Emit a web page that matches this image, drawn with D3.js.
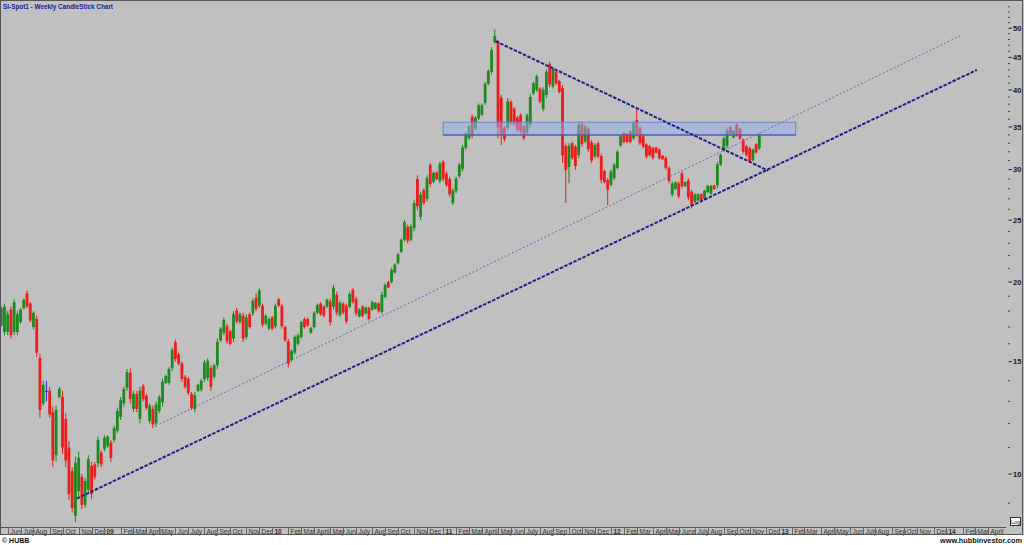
<!DOCTYPE html>
<html><head><meta charset="utf-8">
<script src="https://cdn.jsdelivr.net/npm/d3@7/dist/d3.min.js"></script>
<style>html,body{margin:0;padding:0;background:#fff;}svg{display:block}</style>
</head><body><svg id="c" width="1024" height="545"></svg>
<script>
// ---- data (weekly silver spot) ----
const firstWeek = "2008-05-23";
const opens = [17.1,16.7,16.7,18.1,16.7,16.7,17.3,18.2,19.2,18.5,
17.0,17.5,15.2,12.9,13.5,13.5,12.5,10.7,13.2,13.2,
12.2,11.0,10.1,8.6,9.4,9.9,8.95,9.45,10.3,10.35,
10.4,10.8,10.95,11.05,11.2,11.3,11.7,12.3,12.9,13.65,
14.4,12.65,13.35,12.2,13.75,13.25,12.1,12.65,12.0,12.55,
12.95,13.9,13.9,14.65,16.1,15.4,14.9,14.2,14.1,13.35,
12.65,13.5,13.55,14.1,14.15,14.65,14.2,14.8,16.2,16.65,
17.05,16.75,16.3,18.05,17.3,17.7,16.4,17.8,17.85,18.9,
18.35,18.35,17.2,16.9,17.6,17.05,18.8,18.35,17.0,16.15,
15.1,15.5,16.0,16.4,17.5,17.5,16.65,17.0,17.9,18.5,
18.3,18.3,18.65,18.3,19.1,17.75,18.5,18.35,18.3,19.45,
18.8,17.65,18.3,17.85,18.2,18.1,18.15,18.5,17.95,18.95,
20.0,20.0,20.7,21.4,22.3,23.3,24.4,23.3,24.3,29.0,
25.3,27.85,27.0,30.5,28.7,29.7,28.8,30.85,29.6,29.0,
26.6,27.75,29.3,30.1,32.45,33.6,36.3,34.8,36.1,36.6,
38.2,40.9,42.7,47.5,47.6,38.9,34.9,34.9,38.3,37.4,
36.2,36.55,35.1,34.3,35.3,39.5,40.0,40.2,37.35,39.3,
43.9,40.5,42.75,41.3,40.3,32.7,30.3,33.0,32.6,31.6,
35.4,33.2,34.8,33.1,31.45,33.0,31.5,29.85,28.9,28.4,
29.1,30.2,32.75,34.25,34.1,34.45,33.6,35.9,34.9,33.85,
32.85,32.65,32.45,32.5,32.25,31.55,31.3,30.2,27.4,28.0,
28.55,29.6,28.25,28.85,27.7,26.7,26.85,27.45,27.0,27.65,
27.5,28.35,28.35,30.55,32.2,32.7,35.0,33.7,35.3,34.75,
33.4,32.65,32.4,31.05,32.9,32.4];
const highs = [18.3,18.5,18.0,18.3,18.8,18.0,18.2,18.85,19.4,18.6,
18.0,17.7,15.45,14.0,14.0,13.7,12.75,12.8,13.7,13.5,
12.45,11.25,10.25,10.65,10.85,10.0,9.85,10.7,10.45,10.45,
11.45,10.9,11.5,11.5,11.3,11.9,12.7,13.2,13.7,14.6,
14.65,13.5,13.5,13.7,13.85,13.35,12.9,12.8,13.0,13.3,
14.1,14.3,14.7,15.8,16.25,15.5,15.0,14.3,14.2,13.45,
13.45,13.85,14.1,15.1,15.2,14.8,14.9,16.3,17.0,17.6,
17.2,16.85,18.0,18.2,17.9,17.9,17.8,17.9,18.85,19.2,
19.55,18.5,17.8,17.6,17.7,18.5,18.85,18.5,17.1,16.3,
15.7,16.5,16.6,17.4,17.6,17.6,17.0,18.0,18.5,18.6,
18.4,18.85,18.85,19.8,19.3,18.7,18.6,18.5,19.3,19.55,
18.95,18.2,18.4,18.3,18.3,18.7,18.6,18.6,19.3,19.9,
20.1,21.05,21.4,22.2,23.4,25.0,24.6,24.6,26.9,29.4,
27.7,28.05,29.4,30.75,29.8,29.8,30.9,31.1,29.8,29.25,
28.05,29.25,30.75,32.8,34.4,35.3,36.6,36.4,38.1,38.1,
41.2,43.1,46.7,49.8,47.9,39.3,35.1,38.85,38.6,37.6,
36.4,36.8,35.3,36.8,39.5,41.2,42.3,40.4,40.4,43.1,
44.3,43.5,43.0,41.5,40.7,33.0,33.0,33.2,32.8,35.7,
35.7,35.3,35.1,33.4,33.0,33.2,31.8,30.0,29.1,30.0,
30.75,32.2,34.0,34.4,34.2,34.6,35.7,37.4,35.1,34.0,
33.0,32.8,32.6,32.6,32.4,31.6,31.45,30.4,28.75,28.75,
28.75,29.8,28.75,29.1,27.9,27.55,27.55,27.55,27.9,28.4,
28.4,28.4,30.9,31.8,33.8,34.9,35.1,34.6,35.5,34.9,
33.6,32.8,32.6,32.4,33.0,34.2];
const lows = [17.0,16.5,16.5,16.3,16.5,16.5,17.2,18.1,18.2,17.3,
16.85,15.25,12.25,12.8,13.0,12.25,10.25,10.45,13.15,10.75,
10.25,9.1,8.7,8.4,9.2,8.8,8.85,9.3,9.15,9.8,
10.25,10.25,10.85,11.0,10.45,11.2,11.6,12.15,12.75,13.5,
12.9,12.5,12.5,12.0,13.0,12.6,12.0,11.8,11.85,12.45,
12.75,13.85,13.8,14.5,15.0,14.8,13.95,13.6,13.3,12.6,
12.5,13.45,13.45,13.95,14.0,13.5,14.1,14.6,16.1,16.5,
16.0,15.9,16.1,17.2,17.2,16.1,16.25,16.9,17.7,18.0,
18.2,17.0,17.1,16.8,16.8,16.9,18.3,16.9,16.1,14.7,
15.0,15.4,15.9,16.3,16.9,17.0,16.6,16.9,17.8,17.7,
17.6,18.2,17.1,18.1,17.7,17.6,17.8,17.2,18.2,18.5,
17.7,17.6,17.6,17.8,17.4,18.0,18.1,17.9,17.8,18.85,
19.55,19.9,20.6,21.3,22.2,23.15,23.0,23.15,24.0,25.9,
25.0,26.4,26.75,28.2,28.55,28.9,28.55,28.75,28.2,27.2,
26.4,27.55,29.1,29.8,32.2,33.4,33.6,34.6,35.9,36.4,
37.9,40.7,42.3,47.3,33.6,32.8,33.2,34.6,35.3,35.1,
34.4,34.2,33.4,34.0,34.9,39.3,39.7,38.1,37.0,38.85,
40.4,40.2,40.7,39.5,30.75,26.6,28.55,31.1,30.0,31.25,
32.6,33.0,32.0,30.75,31.25,31.25,28.55,28.55,26.4,28.2,
28.9,30.0,32.6,33.0,33.0,33.0,33.4,33.8,32.8,32.4,
31.25,31.45,31.1,31.8,31.1,31.1,30.0,28.55,27.2,27.9,
27.05,28.05,28.2,26.9,26.1,26.6,26.75,26.75,26.9,27.55,
27.4,27.9,28.05,30.4,32.0,32.4,34.0,33.6,33.8,33.4,
31.8,31.45,30.75,30.9,31.8,32.2];
const closes = [18.2,18.3,17.8,16.5,18.6,17.8,18.1,18.75,18.3,17.4,
17.9,15.5,12.6,13.8,13.5,12.4,10.5,12.6,13.6,11.0,
10.5,9.3,8.85,10.4,10.6,8.95,9.75,10.55,9.3,9.9,
11.3,10.35,11.4,11.45,10.6,11.8,12.55,13.05,13.6,14.45,
13.1,13.35,12.65,13.5,13.1,12.7,12.8,11.95,12.85,13.2,
13.95,14.25,14.6,15.65,15.15,14.9,14.1,13.7,13.4,12.7,
13.3,13.8,14.0,14.95,15.05,13.7,14.8,16.1,16.9,17.45,
16.15,16.0,17.8,17.35,17.8,16.3,17.6,17.0,18.7,18.15,
19.4,17.15,17.7,17.5,16.9,18.35,18.35,17.05,16.2,14.9,
15.6,16.4,16.5,17.3,17.0,17.1,16.95,17.9,18.4,17.8,
17.7,18.75,17.3,19.6,17.9,18.55,17.9,17.35,19.15,18.6,
17.85,18.1,17.7,18.25,17.5,18.6,18.55,18.0,19.1,19.8,
19.6,20.9,21.3,22.1,23.3,24.8,23.2,24.45,26.6,26.3,
27.4,26.6,29.1,28.5,29.65,29.0,30.65,29.0,28.4,27.45,
27.85,29.05,30.55,32.5,34.15,35.1,33.9,36.2,37.85,37.9,
40.9,42.85,46.2,48.6,34.9,34.0,33.5,38.4,35.6,35.35,
34.6,34.45,33.6,36.5,39.0,41.0,42.0,38.35,40.05,42.7,
40.8,43.2,40.95,39.7,31.6,30.0,32.7,31.3,30.4,35.3,
32.9,35.1,32.3,31.0,32.8,31.45,28.9,28.7,27.9,29.8,
30.55,32.0,33.85,33.15,33.15,33.15,35.5,34.1,33.0,32.6,
31.45,31.6,31.3,31.9,31.25,31.15,30.2,28.8,28.55,28.65,
27.25,28.25,28.7,27.15,26.35,27.45,27.45,26.85,27.8,28.3,
28.3,27.95,30.6,31.65,33.6,34.6,34.1,34.5,34.0,33.55,
32.0,31.6,30.95,32.25,31.9,34.0];
const priceTicks = [10,15,20,25,30,35,40,45,50];
const minorTicks = [9,11,12,13,14,16,17,18,19,21,22,23,24,26,27,28,29,31,32,33,34,36,37,38,39,41,42,43,44,46,47,48,49,51,52,53,54];
const monthNames = ["","Feb","Mar","April","May","Jun","July","Aug","Sep","Oct","Nov","Dec"];
const axisFirstMonth = "2008-06-01", axisLastMonth = "2014-04-01";
const supportLine = [["2008-11-03", 9.15], ["2014-03-10", 43.0]];
const channelLine = [["2009-05-01", 11.97], ["2014-02-06", 48.8]];
const downLine = [["2011-05-01", 47.7], ["2012-12-12", 29.9]];
const zoneDates = ["2011-01-07", "2013-02-10"];
const zonePrices = [34.0, 35.6];
const title = "SI-Spot1 - Weekly CandleStick Chart";

// ---- drawing ----
const W = 1024, H = 545, plotBottom = 527;
const FONT = "Liberation Sans, Arial, sans-serif";
const NARROW = "Liberation Sans Narrow, Liberation Sans, Arial, sans-serif";
const parse = d3.utcParse("%Y-%m-%d");
const svg = d3.select("#c");
const x = d3.scaleUtc().domain([Date.UTC(2009,0,1), Date.UTC(2014,0,1)]).range([104, 104 + 5*168.3]);
const y = d3.scaleLog().domain([8.2585, 55.35]).range([plotBottom, 0]);

const t0 = parse(firstWeek);
const weeks = opens.map((o, i) => ({
  d: d3.utcDay.offset(t0, 7*i), o, h: highs[i], l: lows[i], c: closes[i]
}));

svg.append("rect").attr("width", W).attr("height", 535).attr("fill", "#c0c0c0");
svg.append("rect").attr("y", 535).attr("width", W).attr("height", 10).attr("fill", "#ffffff");

// faint grid
const grid = svg.append("g");
priceTicks.forEach(v => grid.append("line").attr("x1", 0).attr("x2", 1005)
  .attr("y1", Math.round(y(v)) + 0.5).attr("y2", Math.round(y(v)) + 0.5)
  .attr("stroke", "#b5b5b5").attr("stroke-dasharray", "1,2"));

const zx0 = x(parse(zoneDates[0])), zx1 = x(parse(zoneDates[1]));
const zy0 = y(zonePrices[1]), zy1 = y(zonePrices[0]);

// candles
const cg = svg.append("g");
const col = d => d.c > d.o ? "#1c8a1c" : (d.c < d.o ? "#f21b1b" : "#2a2aff");
cg.selectAll("line.w").data(weeks).join("line")
  .attr("x1", d => x(d.d)).attr("x2", d => x(d.d))
  .attr("y1", d => y(d.h)).attr("y2", d => y(d.l))
  .attr("stroke", col).attr("stroke-width", 1);
cg.selectAll("rect.b").data(weeks).join("rect")
  .attr("x", d => x(d.d) - 1.4).attr("width", 2.8)
  .attr("y", d => y(Math.max(d.o, d.c)))
  .attr("height", d => Math.max(1, Math.abs(y(d.o) - y(d.c))))
  .attr("fill", col);

// zone on top (semi transparent)
svg.append("rect").attr("x", zx0).attr("y", zy0).attr("width", zx1 - zx0).attr("height", zy1 - zy0)
  .attr("fill", "#94b0ee").attr("fill-opacity", 0.5).attr("stroke", "#7283cc").attr("stroke-width", 1);
svg.append("line").attr("x1", zx0).attr("x2", zx1).attr("y1", zy1).attr("y2", zy1)
  .attr("stroke", "#3c4cb0").attr("stroke-width", 1.2);

// trend lines
function tline(pts, stroke, w, dash) {
  svg.append("line")
    .attr("x1", x(parse(pts[0][0]))).attr("y1", y(pts[0][1]))
    .attr("x2", x(parse(pts[1][0]))).attr("y2", y(pts[1][1]))
    .attr("stroke", stroke).attr("stroke-width", w).attr("stroke-dasharray", dash);
}
tline(channelLine, "#6a6ab8", 1, "2,2");
tline(supportLine, "#1f1f8c", 2, "3.5,1.5");
tline(downLine, "#1f1f8c", 2, "3.5,1.5");

// right axis
const ra = svg.append("g").attr("font-family", FONT);
minorTicks.forEach(v => { const yy = y(v); if (yy > 2 && yy < plotBottom - 2)
  ra.append("line").attr("x1", 1008).attr("x2", 1010).attr("y1", yy).attr("y2", yy).attr("stroke", "#444"); });
priceTicks.forEach(v => {
  ra.append("line").attr("x1", 1008.5).attr("x2", 1012).attr("y1", y(v)).attr("y2", y(v)).attr("stroke", "#222");
  ra.append("text").attr("x", 1013).attr("y", y(v) + 2.6).attr("font-size", 7.5).attr("font-weight", "bold")
    .attr("fill", "#1a1a1a").text(v);
});

// bottom axis
svg.append("line").attr("x1", 0).attr("x2", 1006).attr("y1", plotBottom + 0.5).attr("y2", plotBottom + 0.5).attr("stroke", "#555");
const months = d3.utcMonth.range(parse(axisFirstMonth), d3.utcMonth.offset(parse(axisLastMonth), 1));
const ba = svg.append("g").attr("font-family", NARROW);
months.forEach(m => {
  const tx = Math.round(x(d3.utcFriday.ceil(m))) + 0.5;
  ba.append("line").attr("x1", tx).attr("x2", tx).attr("y1", plotBottom).attr("y2", 535).attr("stroke", "#666");
  const mi = m.getUTCMonth();
  let lab = mi === 0 ? d3.utcFormat("%y")(m) : monthNames[mi];
  if (mi === 5 && m.getUTCFullYear() === 2012) lab = "June";
  ba.append("text").attr("x", tx + 2).attr("y", 533.5).attr("font-size", 6.5)
    .attr("font-weight", mi === 0 ? "bold" : "normal").attr("fill", "#333").text(lab);
});

// Log box
svg.append("rect").attr("x", 1010.5).attr("y", 517.5).attr("width", 10).attr("height", 8)
  .attr("fill", "#fff").attr("stroke", "#333");
svg.append("text").attr("x", 1015.5).attr("y", 524).attr("text-anchor", "middle")
  .attr("font-family", FONT).attr("font-size", 5.5).attr("fill", "#222").text("Log");

// title & footer
svg.append("text").attr("x", 3).attr("y", 9).attr("font-family", FONT)
  .attr("font-size", 7.5).attr("font-weight", "bold").attr("fill", "#20209a")
  .attr("textLength", 110).attr("lengthAdjust", "spacingAndGlyphs").text(title);
svg.append("text").attr("x", 2).attr("y", 543).attr("font-family", FONT)
  .attr("font-size", 7).attr("font-weight", "bold").attr("fill", "#111").text("© HUBB");
svg.append("text").attr("x", 1022).attr("y", 543).attr("text-anchor", "end").attr("font-family", FONT)
  .attr("font-size", 7.5).attr("font-weight", "bold").attr("fill", "#111")
  .attr("textLength", 82).attr("lengthAdjust", "spacingAndGlyphs").text("www.hubbinvestor.com");

// frame
svg.append("rect").attr("x", 0.5).attr("y", 0.5).attr("width", W - 2).attr("height", 534)
  .attr("fill", "none").attr("stroke", "#555");
</script></body></html>
